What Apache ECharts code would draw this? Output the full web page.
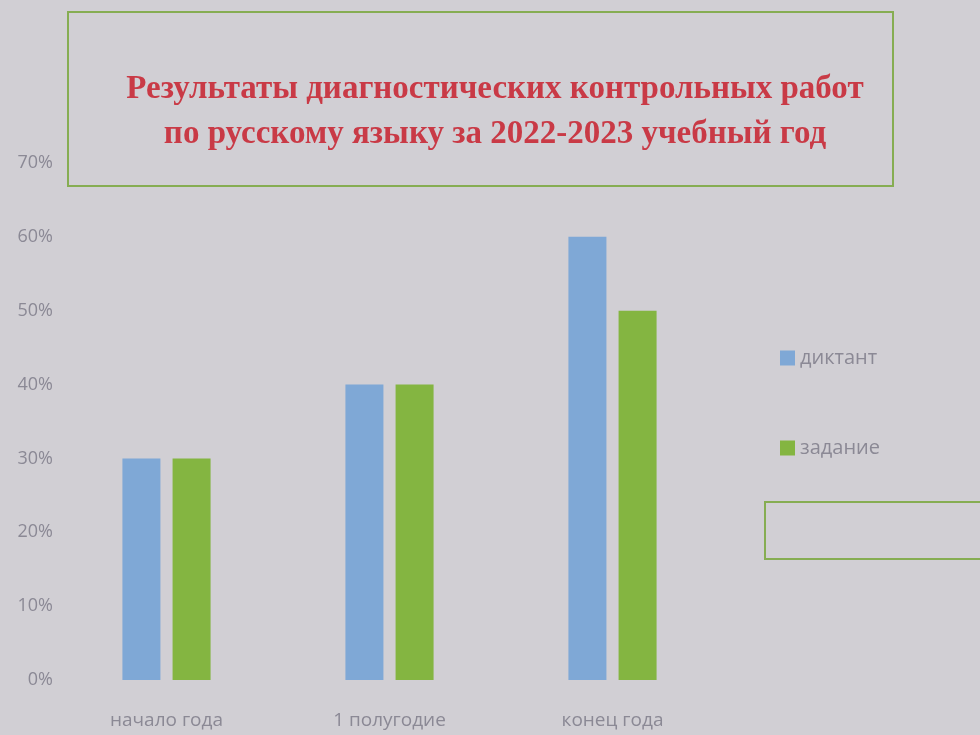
<!DOCTYPE html>
<html>
<head>
<meta charset="utf-8">
<script src="https://cdn.jsdelivr.net/npm/echarts@6/dist/echarts.min.js"></script>
<style>
  html, body { margin: 0; padding: 0; background: #d1cfd4; }
  #chart { width: 980px; height: 735px; }
</style>
</head>
<body>
<div id="chart"></div>
<script>
// Учебные периоды
var periods = ['начало года', '1 полугодие', 'конец года'];
// Доля (%) по видам работ
var dictation = [30, 40, 60];
var assignment = [30, 40, 50];
// Подписи оси значений
var yTicks = [0, 10, 20, 30, 40, 50, 60, 70];

var titleText = 'Результаты диагностических контрольных работ\nпо русскому языку за 2022-2023 учебный год';

var labelColor = '#8b8995';

var chart = echarts.init(document.getElementById('chart'));
chart.setOption({
  backgroundColor: '#d1cfd4',
  animation: false,
  title: {
    text: titleText,
    left: 490,
    top: 62,
    textAlign: 'center',
    textStyle: {
      fontFamily: 'Liberation Serif',
      fontWeight: 'bold',
      fontSize: 33,
      lineHeight: 45,
      color: '#c93a46'
    }
  },
  graphic: [
    {
      type: 'rect',
      shape: { x: 68, y: 12, width: 825, height: 174 },
      style: { fill: 'none', stroke: '#86ad52', lineWidth: 2 },
      z: 10
    },
    {
      type: 'rect',
      shape: { x: 765, y: 502, width: 230, height: 57 },
      style: { fill: 'none', stroke: '#86ad52', lineWidth: 2 },
      z: 10
    }
  ],
  legend: {
    orient: 'vertical',
    left: 775,
    top: 343,
    itemWidth: 15,
    itemHeight: 15,
    itemGap: 70,
    icon: 'rect',
    textStyle: { fontFamily: 'Open Sans', fontSize: 20, color: labelColor },
    data: ['диктант', 'задание']
  },
  grid: { left: 55, top: 163, width: 669, bottom: 55, containLabel: false },
  xAxis: {
    type: 'category',
    data: periods,
    axisLine: { show: false },
    axisTick: { show: false },
    axisLabel: { fontFamily: 'Open Sans', fontSize: 19, color: labelColor, margin: 31 }
  },
  yAxis: {
    type: 'value',
    min: yTicks[0],
    max: yTicks[yTicks.length - 1],
    interval: 10,
    splitLine: { show: false },
    axisLine: { show: false },
    axisTick: { show: false },
    axisLabel: {
      fontFamily: 'Open Sans', fontSize: 18, color: labelColor, margin: 2,
      formatter: function (v) { return v + '%'; }
    }
  },
  series: [
    {
      name: 'диктант', type: 'bar', data: dictation,
      barWidth: 38, barGap: '32%',
      itemStyle: { color: '#7fa8d6' }
    },
    {
      name: 'задание', type: 'bar', data: assignment,
      barWidth: 38,
      itemStyle: { color: '#84b541' }
    }
  ]
});
</script>
</body>
</html>
